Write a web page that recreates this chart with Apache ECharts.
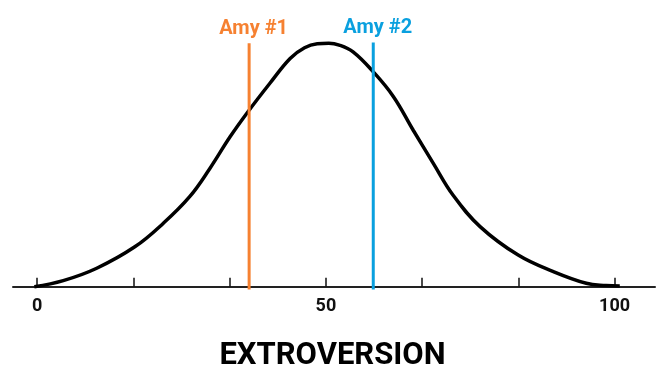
<!DOCTYPE html>
<html>
<head>
<meta charset="utf-8">
<script src="https://cdn.jsdelivr.net/npm/echarts@6/dist/echarts.min.js"></script>
<style>html,body{margin:0;padding:0;background:#fff;}#c{width:665px;height:390px;}</style>
</head>
<body>
<div id="c"></div>
<script>
// Bell curve: x = extroversion score, y = relative height (peak ~100)
const curveX = [-0.5, 4.5, 10.3, 16.9, 21.8, 26.4, 29.9, 33.4, 36.5, 40.3, 43.8, 46.3, 48.5, 50.5, 52.3, 54.7, 58.2, 61.7, 65.1, 68.6, 72.0, 76.7, 83.3, 89.4, 95.1, 98.5, 100.9];
const curveY = [0, 2.5, 7.6, 16.4, 26.0, 37.0, 48.6, 61.6, 71.9, 83.6, 93.8, 98.2, 99.8, 100, 99.3, 96.5, 88.3, 78.1, 64.4, 50.7, 37.7, 24.7, 13.0, 6.2, 1.4, 0.5, 0.3];
const markerNames = ['Amy #1', 'Amy #2'];
const markerX = [36.7, 58.2];
const markerBottom = -1.1;
const markerTop = [100, 100.4];
const tickValues = [0, 16.667, 33.333, 50, 66.667, 83.333, 100];
const labelValues = [0, 50, 100];
const axisTitle = 'EXTROVERSION';

const markerColors = ['#F68131', '#0AA0DF'];

const chart = echarts.init(document.getElementById('c'), null, {renderer: 'canvas'});
const curveData = curveX.map((x, i) => [x, curveY[i]]);

const markerSeries = markerNames.map((name, i) => ({
  type: 'line',
  name: name,
  data: [
    [markerX[i], markerBottom],
    {value: [markerX[i], markerTop[i]], label: {
      show: true, position: 'top', distance: 4, offset: [4.5, 0],
      formatter: name, color: markerColors[i],
      fontFamily: 'Roboto', fontWeight: 'bold', fontSize: 20
    }}
  ],
  showSymbol: true, symbolSize: 0, symbol: 'circle',
  lineStyle: {color: markerColors[i], width: 3},
  itemStyle: {color: markerColors[i]},
  silent: true, animation: false, z: 3
}));

chart.setOption({
  animation: false,
  grid: {left: 13, right: 10, top: 20, bottom: 100.6, containLabel: false},
  xAxis: {
    type: 'value', min: -4.2, max: 107,
    axisLine: {show: true, onZero: true, lineStyle: {color: '#222', width: 2}},
    axisTick: {show: true, inside: true, length: 9, customValues: tickValues, lineStyle: {color: '#111', width: 1.5}},
    axisLabel: {show: true, customValues: labelValues, margin: 8, color: '#111', fontFamily: 'Roboto', fontWeight: 'bold', fontSize: 18},
    splitLine: {show: false}
  },
  yAxis: {
    type: 'value', min: markerBottom, max: 109.6,
    show: false, splitLine: {show: false}
  },
  graphic: [{
    type: 'text', left: 'center', top: 341,
    style: {text: axisTitle, fill: '#000', font: 'bold 31px Roboto'}
  }],
  series: [{
    type: 'line', name: 'distribution', data: curveData, smooth: 0.4,
    showSymbol: false, lineStyle: {color: '#000', width: 3.5}, z: 2
  }].concat(markerSeries)
});
</script>
</body>
</html>
